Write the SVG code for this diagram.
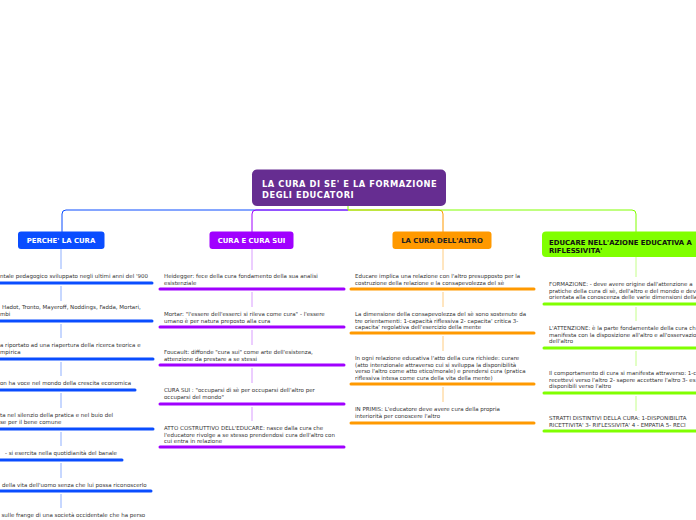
<svg xmlns="http://www.w3.org/2000/svg" width="696" height="520" viewBox="0 0 696 520">
<style>
.t{font-family:"DejaVu Sans","Verdana",sans-serif;font-size:5.5px;fill:#333}
.h{font-family:"DejaVu Sans","Verdana",sans-serif;font-size:6.9px;font-weight:bold}
.ti{font-family:"DejaVu Sans","Verdana",sans-serif;font-size:8.3px;font-weight:bold;fill:#fff;letter-spacing:0.55px}
.bar{stroke-width:3;stroke-linecap:round;fill:none}
.b{stroke:#0a4dff}.p{stroke:#a000ff}.o{stroke:#ff9900}.g{stroke:#80ff00}
.s{stroke-width:1;fill:none}
.sb{stroke:#8fb0ff}.sp{stroke:#d99cff}.so{stroke:#ffcc80}.sg{stroke:#c4ff8a}
</style>
<rect width="696" height="520" fill="#fff"/>
<g id="connectors" fill="none" stroke-width="1">
<path d="M348,210 H66 Q62,210 62,214 V232" stroke="#0a4dff"/>
<path d="M348,210 H439 Q443,210 443,214 V232" stroke="#ff9900"/>
<path d="M348,210 H256 Q252,210 252,214 V232" stroke="#a000ff"/>
<path d="M348,205 V210 H632 Q636,210 636,214 V232" stroke="#80ff00"/>
<path class="s sb" d="M61,249V269M61,286V301M61,324V338M61,362V376M61,393V408M61,432V446M61,463V478M61,494V508"/>
<path class="s sp" d="M252,249V270M252,292V307M252,330V345M252,368V383M252,407V421"/>
<path class="s so" d="M443,249V270M443,292V307M443,336V351M443,387V402"/>
<path class="s sg" d="M636,257V277M636,307V321M636,351V366M636,396V411"/>
</g>
<g id="root">
<rect x="252" y="169.5" width="194" height="36.5" rx="5" fill="#662d91"/>
<text class="ti" x="262" y="187">LA CURA DI SE' E LA FORMAZIONE</text>
<text class="ti" x="262" y="197.5">DEGLI EDUCATORI</text>
</g>
<g id="perche">
<rect x="18" y="231.5" width="86.5" height="17.5" rx="3" fill="#0a4dff"/>
<text class="h" x="61" y="243" text-anchor="middle" fill="#fff">PERCHE' LA CURA</text>
</g>
<g id="cura-sui">
<rect x="209.5" y="231.5" width="84" height="17.5" rx="3" fill="#a000ff"/>
<text class="h" x="251.5" y="243" text-anchor="middle" fill="#fff">CURA E CURA SUI</text>
</g>
<g id="altro">
<rect x="392.5" y="231.5" width="99" height="17.5" rx="3" fill="#ff9900"/>
<text class="h" x="442" y="243" text-anchor="middle" fill="#222">LA CURA DELL'ALTRO</text>
</g>
<g id="educare">
<rect x="542" y="231.5" width="200" height="25.5" rx="4" fill="#80ff00"/>
<text class="h" x="549" y="244.5" fill="#111">EDUCARE NELL'AZIONE EDUCATIVA A</text>
<text class="h" x="549" y="253" fill="#111">RIFLESSIVITA'</text>
</g>
<g id="c1i1"><text class="t" x="0" y="278">ntale pedagogico sviluppato negli ultimi anni del '900</text><line class="bar b" x1="-5" y1="283" x2="152" y2="283"/></g>
<g id="c1i2"><text class="t" x="2" y="309">Hadot, Tronto, Mayeroff, Noddings, Fadda, Mortari,</text><text class="t" x="0" y="315.5">mbi</text><line class="bar b" x1="-5" y1="321" x2="152" y2="321"/></g>
<g id="c1i3"><text class="t" x="0" y="347">a riportato ad una riapertura della ricerca teorica e</text><text class="t" x="0" y="353.5">mpirica</text><line class="bar b" x1="-5" y1="359" x2="153" y2="359"/></g>
<g id="c1i4"><text class="t" x="0" y="385">on ha voce nel mondo della crescita economica</text><line class="bar b" x1="-5" y1="390" x2="135" y2="390"/></g>
<g id="c1i5"><text class="t" x="0" y="417">ta nel silenzio della pratica  e nel buio del</text><text class="t" x="0" y="423.5">se per il bene comune</text><line class="bar b" x1="-5" y1="429" x2="153" y2="429"/></g>
<g id="c1i6"><text class="t" x="5" y="455">- si esercita nella quotidianità del banale</text><line class="bar b" x1="-5" y1="460" x2="122" y2="460"/></g>
<g id="c1i7"><text class="t" x="2" y="487">della vita dell'uomo senza che lui possa riconoscerlo</text><line class="bar b" x1="-5" y1="491" x2="151" y2="491"/></g>
<g id="c1i8"><text class="t" x="1.5" y="517">sulle frange di una società occidentale che ha perso</text></g>
<g id="c2i1"><text class="t" x="164" y="278">Heidegger: fece della cura fondamento della sua analisi</text><text class="t" x="164" y="284.5">esistenziale</text><line class="bar p" x1="160" y1="289" x2="344" y2="289"/></g>
<g id="c2i2"><text class="t" x="164" y="316">Mortar: "l'essere dell'esserci si rileva come cura" - l'essere</text><text class="t" x="164" y="322.5">umano è per natura preposto alla cura</text><line class="bar p" x1="160" y1="327" x2="344" y2="327"/></g>
<g id="c2i3"><text class="t" x="164" y="354">Foucault: diffonde "cura sui" come arte dell'esistenza,</text><text class="t" x="164" y="360.5">attenzione da prestare a se stessi</text><line class="bar p" x1="160" y1="365" x2="344" y2="365"/></g>
<g id="c2i4"><text class="t" x="164" y="392">CURA SUI : "occuparsi di sè per occuparsi dell'altro per</text><text class="t" x="164" y="398.5">occuparsi del mondo"</text><line class="bar p" x1="160" y1="404" x2="344" y2="404"/></g>
<g id="c2i5"><text class="t" x="164" y="430">ATTO COSTRUTTIVO DELL'EDUCARE: nasce dalla cura che</text><text class="t" x="164" y="436.5">l'educatore rivolge a se stesso prendendosi cura dell'altro con</text><text class="t" x="164" y="443">cui entra in relazione</text><line class="bar p" x1="160" y1="447" x2="344" y2="447"/></g>
<g id="c3i1"><text class="t" x="355" y="278">Educare implica una relazione con l'altro presupposto per la</text><text class="t" x="355" y="284.5">costruzione della relazione e la consapevolezza del sè</text><line class="bar o" x1="351" y1="289" x2="534" y2="289"/></g>
<g id="c3i2"><text class="t" x="355" y="316">La dimensione della consapevolezza del sè sono sostenute da</text><text class="t" x="355" y="322.5">tre orientamenti: 1-capacità riflessiva 2- capacita' critica 3-</text><text class="t" x="355" y="329">capacita' regolativa dell'esercizio della mente</text><line class="bar o" x1="351" y1="333" x2="534" y2="333"/></g>
<g id="c3i3"><text class="t" x="355" y="360">In ogni relazione educativa l'atto della cura richiede: curare</text><text class="t" x="355" y="366.5">(atto intenzionale attraverso cui si sviluppa la disponibilità</text><text class="t" x="355" y="373">verso l'altro come atto etico/morale) e  prendersi cura (pratica</text><text class="t" x="355" y="379.5">riflessiva intesa come cura della vita della mente)</text><line class="bar o" x1="351" y1="384" x2="534" y2="384"/></g>
<g id="c3i4"><text class="t" x="355" y="411">IN PRIMIS: L'educatore deve avere cura della propria</text><text class="t" x="355" y="417.5">interiorità per conoscere l'altro</text><line class="bar o" x1="351" y1="423" x2="534" y2="423"/></g>
<g id="c4i1"><text class="t" x="549" y="286">FORMAZIONE:  - deve avere origine dall'attenzione a</text><text class="t" x="549" y="292.5">pratiche della cura di sè, dell'altro e del mondo e dev</text><text class="t" x="549" y="299">orientata alla conoscenza delle varie dimensioni della</text><line class="bar g" x1="544" y1="304" x2="700" y2="304"/></g>
<g id="c4i2"><text class="t" x="549" y="330">L'ATTENZIONE: è la parte fondamentale della cura ch</text><text class="t" x="549" y="336.5">manifesta con la disposizione all'altro e all'osservazio</text><text class="t" x="549" y="343">dell'altro</text><line class="bar g" x1="544" y1="348" x2="700" y2="348"/></g>
<g id="c4i3"><text class="t" x="549" y="375">Il comportamento di cura si manifesta attraverso: 1-c</text><text class="t" x="549" y="381.5">recettevi verso l'altro 2- sapere accettare l'altro 3- es</text><text class="t" x="549" y="388">disponibili verso l'altro</text><line class="bar g" x1="544" y1="393" x2="700" y2="393"/></g>
<g id="c4i4"><text class="t" x="549" y="420">STRATTI DISTINTIVI DELLA CURA: 1-DISPONIBILITA</text><text class="t" x="549" y="426.5">RICETTIVITA' 3- RIFLESSIVITA' 4 - EMPATIA 5- RECI</text><line class="bar g" x1="544" y1="431" x2="700" y2="431"/></g>
</svg>
